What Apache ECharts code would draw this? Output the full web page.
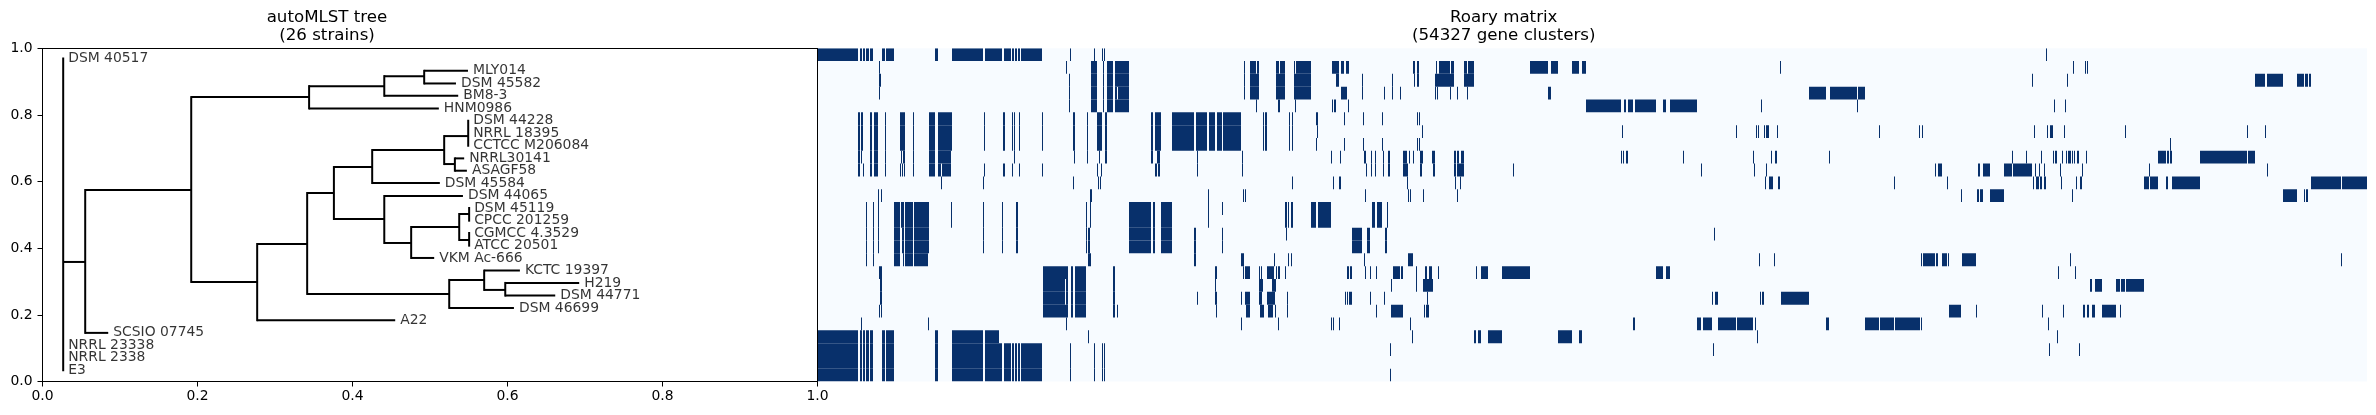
<!DOCTYPE html>
<html><head><meta charset="utf-8">
<style>html,body{margin:0;padding:0;background:#fff}#c{width:2376px;height:415px}</style>
<script src="https://cdn.jsdelivr.net/npm/echarts@6/dist/echarts.min.js"></script>
</head><body><div id="c"></div>
<script>
// ---------- Tree data (axis units) ----------
const leafNames = ["DSM 40517","MLY014","DSM 45582","BM8-3","HNM0986","DSM 44228","NRRL 18395","CCTCC M206084","NRRL30141","ASAGF58","DSM 45584","DSM 44065","DSM 45119","CPCC 201259","CGMCC 4.3529","ATCC 20501","VKM Ac-666","KCTC 19397","H219","DSM 44771","DSM 46699","A22","SCSIO 07745","NRRL 23338","NRRL 2338","E3"];
const leafX = [.0267,.549,.5335,.5364,.5114,.5493,.5493,.5493,.5441,.5476,.5127,.5425,.5505,.5505,.5505,.5505,.5054,.616,.6925,.6616,.6083,.4551,.0848,.0267,.0267,.0267];
const leafY = [.970,.933,.895,.858,.820,.783,.745,.708,.670,.633,.596,.558,.521,.483,.446,.408,.371,.333,.296,.258,.221,.184,.146,.109,.071,.034];
// vertical clade bars: [x, yLow, yHigh]
const cladeBars = [[.0267,.034,.970],[.0551,.146,.575],[.1919,.299,.854],[.344,.820,.887],[.441,.858,.917],[.4925,.895,.933],[.277,.184,.413],[.3415,.263,.566],[.376,.488,.644],[.4254,.596,.695],[.5183,.653,.737],[.5493,.708,.783],[.5321,.633,.670],[.441,.416,.557],[.4757,.371,.464],[.5377,.425,.503],[.5505,.483,.521],[.5505,.408,.446],[.5248,.221,.305],[.5699,.275,.333],[.5971,.258,.296]];
// horizontal branches: [y, xStart, xEnd]
const branches = [[.359,.0267,.0551],[.146,.0551,.0848],[.575,.0551,.1919],[.854,.1919,.344],[.887,.344,.441],[.917,.441,.4925],[.933,.4925,.549],[.895,.4925,.5335],[.858,.441,.5364],[.820,.344,.5114],[.299,.1919,.277],[.184,.277,.4551],[.413,.277,.3415],[.566,.3415,.376],[.644,.376,.4254],[.695,.4254,.5183],[.596,.4254,.5127],[.737,.5183,.5493],[.653,.5183,.5321],[.670,.5321,.5441],[.633,.5321,.5476],[.488,.376,.441],[.557,.441,.5425],[.416,.441,.4757],[.464,.4757,.5377],[.371,.4757,.5054],[.503,.5377,.5505],[.425,.5377,.5505],[.263,.3415,.5248],[.305,.5248,.5699],[.333,.5699,.616],[.275,.5699,.5971],[.296,.5971,.6925],[.258,.5971,.6616],[.221,.5248,.6083]];
const tickLabels = [0,.2,.4,.6,.8,1];

// ---------- Roary presence runs, in binned gene-cluster columns ----------
// a number is one present column; [a,b] is a run of present columns
const coreLeft = [[0,41],[43,45],[46,48],[49,52],[53,56],[65,68],[69,77],[118,121],[135,166]];
const coreRight = [[168,185],[187,194],[195,197],[198,200],[201,203],[204,225],253,277,285,287];
const block1 = [[274,280],286,[290,296]];
const block5 = [[41,43],[53,55],[57,61],68,96,[112,118]];
const block5b = [[44,46],[83,87],[87,88],[121,135],167,[186,188],195,197,202,225,[256,258],270,[280,285],[288,290],[334,336],[338,344],[355,377],[379,390],[392,398],[400,405],[406,424],[446,447],[448,450],[472,473],[475,476]];
const block12 = [49,56,[77,83],[85,87],[88,96],[97,112],166,185,[199,201],269,[312,334],[336,338],[344,355]];
const block17 = [[254,256],[258,269],[296,298]];

const row0 = [...coreLeft,...coreRight,1229];
const row1 = [62,249,...block1,[298,312],427,[433,439],[440,442],[459,462],[463,468],477,[479,494],[515,522],[524,527],[529,532],[596,598],[600,602],619,[622,633],[634,637],[647,650],[651,657],[713,731],[734,741],[755,762],[765,769],963,1256,1268,1270];
const row2 = [[62,64],252,...block1,[298,312],427,[433,442],[459,468],[477,494],[519,522],545,575,597,[600,602],[618,637],[647,657],1215,1250,[1438,1448],[1450,1466],[1480,1487],[1488,1491],[1492,1494]];
const row3 = [62,252,...block1,[298,300],[301,312],427,[433,442],[459,468],[477,494],[524,530],545,567,575,583,618,620,633,640,650,[731,734],[992,1009],[1013,1040],[1041,1048]];
const row4 = [252,...block1,[298,312],439,[461,463],478,[515,516],[517,519],531,[769,804],[807,809],[811,816],[818,839],[846,849],[853,880],944,1040,1237,1248];
const row5 = [...block5,...block5b,[499,501],527,546,565,600,602];
const row6 = [...block5,...block5b,500,605,805,919,939,941,947,[949,952],960,1062,1102,1105,1217,1230,[1233,1236],1247,1308,1430,1448];
const row7 = [...block5,...block5b,499,527,546,565,600,602,1353];
const row8 = [...block5,[44,45],84,86,87,[121,134],197,257,270,282,[288,290],[334,336],340,[341,343],380,425,514,523,[547,549],554,558,566,[571,573],[586,590],592,596,[603,606],[615,618],[637,639],[640,642],[644,647],804,806,[809,811],866,936,954,[958,960],1012,1195,1209,1224,1236,[1238,1240],1245,1249,[1251,1254],1255,1257,[1260,1262],1269,[1341,1349],[1350,1352],[1353,1355],[1383,1430],[1431,1438]];
const row9 = [...block5,46,83,85,[87,88],[121,124],[125,134],167,[186,188],195,202,225,280,284,[338,340],[341,343],380,425,549,554,558,566,[571,573],[586,591],[603,605],[616,618],[637,639],[640,647],696,884,937,949,1118,[1121,1125],[1161,1163],[1166,1173],[1187,1195],[1196,1215],1218,1222,1227,1243,1265,1332,1450];
const row10 = [124,166,256,281,283,475,516,[522,524],590,638,643,948,[952,956],[961,963],1077,1130,1216,[1219,1222],[1223,1225],[1227,1229],1244,1259,[1263,1265],[1327,1332],[1333,1341],[1349,1351],[1355,1383],[1494,1524],[1525,1550]];
const row11 = [61,64,[273,275],391,426,428,548,591,593,606,640,1144,[1160,1162],[1163,1166],[1173,1187],1255,[1466,1480],[1487,1488],[1489,1491]];
const row12 = [...block12,61,84,134,273,391,405,[468,470],[471,472],[474,476],[494,499],[501,514],[555,558],[560,565],570];
const row13 = [...block12,61,84,134,273,391,[468,470],[471,472],[474,476],[494,499],[501,514],[555,558],[560,565],570];
const row14 = [...block12,61,[271,273],[377,379],405,469,[535,545],[550,553],[568,570],897];
const row15 = [...block12,61,[271,273],[377,379],405,[535,545],[550,553],[568,570]];
const row16 = [49,56,[77,83],[86,87],[88,96],[97,111],[271,274],[377,379],[424,427],457,471,474,547,[591,596],942,957,1104,[1106,1118],[1119,1121],[1125,1130],1131,[1145,1159],1253,1524];
const row17 = [[62,65],[226,251],...block17,[398,400],426,[428,433],442,444,[450,457],459,[461,463],468,[530,532],[533,535],548,553,559,[576,583],[584,586],599,[608,610],[612,615],621,659,[664,671],[685,713],[839,846],[849,853],1241,1258];
const row18 = [[63,65],[226,248],[249,251],...block17,398,[442,446],[455,459],574,599,[606,616],[1273,1275],[1278,1285],[1299,1303],[1304,1308],[1309,1327]];
const row19 = [[63,65],[226,248],[249,251],...block17,380,[398,400],424,[428,433],[442,445],[450,458],470,528,530,[532,535],553,567,610,895,[898,901],943,[945,947],[964,992]];
const row20 = [62,64,[226,251],...block17,300,399,[429,433],[443,447],[451,456],458,470,559,[574,586],607,[609,612],[1132,1144],1159,1225,1246,[1266,1268],[1270,1272],[1275,1278],[1285,1299],1303];
const row21 = [44,111,249,424,461,514,516,522,593,[816,818],[880,884],[886,895],[901,919],[920,936],938,[1009,1012],[1048,1062],[1063,1077],[1078,1103],1104,1231];
const row22 = [...coreLeft,[168,182],271,595,[657,659],[661,664],[671,685],[741,755],[762,765],940,1240];
const row23 = [...coreLeft,...coreRight,573,896,1232,1262];
const row24 = [...coreLeft,...coreRight];
const row25 = [...coreLeft,...coreRight,573];
const matrixRows = [row0,row1,row2,row3,row4,row5,row6,row7,row8,row9,row10,row11,row12,row13,row14,row15,row16,row17,row18,row19,row20,row21,row22,row23,row24,row25];
const columnBins = 1550;

const FONT = 'DejaVu Sans';
const cells = [];
matrixRows.forEach((runs,r)=>runs.forEach(v=>{
  const [a,b] = Array.isArray(v) ? v : [v,v+1];
  cells.push([a,b,r]);
}));

const chart = echarts.init(document.getElementById('c'),null,{renderer:'canvas'});
const black = '#000';
const tickLabel = (margin)=>({color:black,fontFamily:FONT,fontSize:13.9,margin,showMinLabel:true,showMaxLabel:true,
    formatter:v=>tickLabels.includes(+v.toFixed(1))?v.toFixed(1):''});
const treeAxisCommon = {
  min:0,max:1,interval:.2,type:'value',splitLine:{show:false},
  axisLine:{show:true,lineStyle:{color:black,width:1}},
  axisTick:{show:true,length:5,lineStyle:{color:black,width:1}}
};
const bareAxis = {type:'value',min:0,max:1,show:true,axisTick:{show:false},axisLabel:{show:false},splitLine:{show:false},
  axisLine:{show:true,onZero:false,lineStyle:{color:black,width:1}},z:6};
const titleStyle = {fontFamily:FONT,fontSize:16.67,fontWeight:'normal',color:black,lineHeight:18};
chart.setOption({
  animation:false,backgroundColor:'#fff',
  title:[
    {text:'autoMLST tree\n(26 strains)',left:322,top:3.5,textAlign:'center',textStyle:titleStyle},
    {text:'Roary matrix\n(54327 gene clusters)',left:1498.7,top:3.5,textAlign:'center',textStyle:titleStyle}
  ],
  grid:[
    {left:42.5,top:48.5,width:775,height:333,containLabel:false},
    {left:817,top:48.2,width:1550,height:333.4,show:true,backgroundColor:'#f7fbff',borderWidth:0}
  ],
  xAxis:[
    {...treeAxisCommon,gridIndex:0,position:'bottom',axisLabel:tickLabel(8)},
    {gridIndex:1,type:'value',min:0,max:columnBins,show:false},
    {...bareAxis,gridIndex:0,position:'top'}
  ],
  yAxis:[
    {...treeAxisCommon,gridIndex:0,position:'left',axisLabel:tickLabel(10)},
    {gridIndex:1,type:'value',min:0,max:26,inverse:true,show:false},
    {...bareAxis,gridIndex:0,position:'right'}
  ],
  series:[
    {type:'custom',xAxisIndex:1,yAxisIndex:1,silent:true,clip:true,z:2,
     encode:{x:[0,1],y:2},data:cells,
     renderItem:(p,api)=>{
       const r=api.value(2);
       const a=api.coord([api.value(0),r]), b=api.coord([api.value(1),r+1]);
       return {type:'rect',shape:{x:a[0],y:a[1],width:b[0]-a[0],height:b[1]-a[1]},style:{fill:'#08306b'}};
     }},
    {type:'custom',xAxisIndex:0,yAxisIndex:0,silent:true,z:3,
     encode:{x:0,y:[1,2]},data:cladeBars,
     renderItem:(p,api)=>{
       const a=api.coord([api.value(0),api.value(1)]), b=api.coord([api.value(0),api.value(2)]);
       return {type:'line',shape:{x1:a[0],y1:a[1],x2:b[0],y2:b[1]},style:{stroke:black,lineWidth:2,lineCap:'square'}};
     }},
    {type:'custom',xAxisIndex:0,yAxisIndex:0,silent:true,z:3,
     encode:{x:[1,2],y:0},data:branches,
     renderItem:(p,api)=>{
       const a=api.coord([api.value(1),api.value(0)]), b=api.coord([api.value(2),api.value(0)]);
       return {type:'line',shape:{x1:a[0],y1:a[1],x2:b[0],y2:b[1]},style:{stroke:black,lineWidth:2,lineCap:'butt'}};
     }},
    {type:'scatter',xAxisIndex:0,yAxisIndex:0,silent:true,symbolSize:0,z:4,
     data:leafNames.map((n,i)=>({name:n,value:[leafX[i],leafY[i]]})),
     label:{show:true,position:'right',distance:5,formatter:'{b}',color:black,fontFamily:FONT,fontSize:13.9}}
  ]
});
</script></body></html>
